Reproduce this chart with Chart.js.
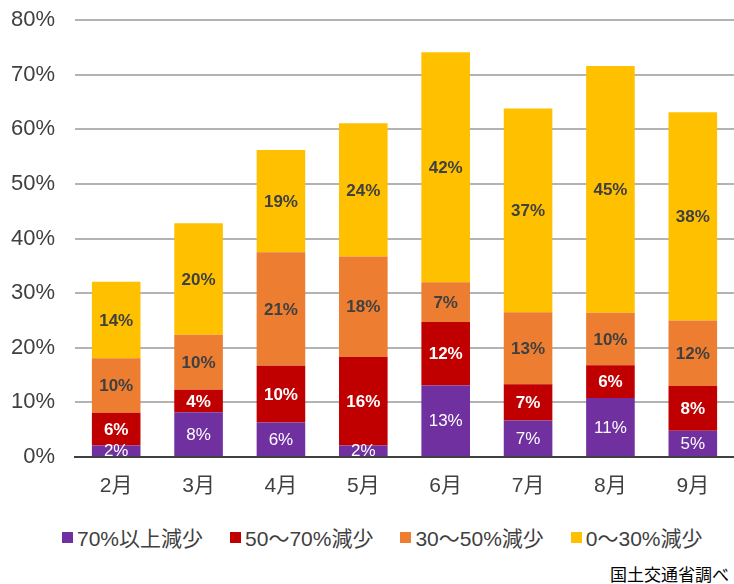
<!DOCTYPE html>
<html>
<head>
<meta charset="utf-8">
<script src="https://cdn.jsdelivr.net/npm/chart.js@4/dist/chart.umd.min.js"></script>
<style>
  body { margin: 0; background: #fff; }
  #wrap { position: relative; width: 734px; height: 584px; font-family: "Liberation Sans", "Noto Sans CJK JP", sans-serif; }
  #box { position: absolute; left: 0; top: 0; width: 734px; height: 500px; }
  #legend { position: absolute; left: 62px; top: 522px; display: flex; gap: 27px; font-size: 21px; color: #404040; }
  #legend .item { display: flex; align-items: center; }
  #legend .sw { width: 11px; height: 11px; margin-right: 4px; }
  #source { position: absolute; right: 5px; top: 561px; font-size: 17px; color: #000; font-family: "Noto Sans CJK JP", sans-serif; }
</style>
</head>
<body>
<div id="wrap">
  <div id="box"><canvas id="chart"></canvas></div>
  <div id="legend"></div>
  <div id="source">国土交通省調べ</div>
</div>
<script>
const months = ['2月', '3月', '4月', '5月', '6月', '7月', '8月', '9月']

// 減少幅ごとの割合 (%)
const over70 = [2.1, 8.2, 6.3, 2.1, 13.1, 6.7, 10.8, 4.8]
const from50to70 = [6.0, 4.1, 10.4, 16.2, 11.6, 6.6, 6.0, 8.2]
const from30to50 = [10.0, 10.1, 20.8, 18.4, 7.3, 13.2, 9.6, 12.0]
const from0to30 = [14.0, 20.4, 18.7, 24.4, 42.1, 37.3, 45.2, 38.1]

const seriesNames = ['70%以上減少', '50～70%減少', '30～50%減少', '0～30%減少']
const seriesColors = ['#7030A0', '#C00000', '#ED7D31', '#FFC000']
const labelColors = ['#ffffff', '#ffffff', '#404040', '#404040']
const labelWeights = ['normal', 'bold', 'bold', 'bold']

const yTicks = [0, 10, 20, 30, 40, 50, 60, 70, 80]

const textColor = '#404040'

// bar value labels
const barLabels = {
    id: 'barLabels',
    afterDatasetsDraw(chart) {
        const ctx = chart.ctx
        ctx.save()
        ctx.textAlign = 'center'
        ctx.textBaseline = 'middle'
        chart.data.datasets.forEach((ds, i) => {
            const meta = chart.getDatasetMeta(i)
            ctx.fillStyle = labelColors[i]
            ctx.font = labelWeights[i] + ' 17px "Liberation Sans", Arial, sans-serif'
            meta.data.forEach((bar, j) => {
                const p = bar.getCenterPoint()
                ctx.fillText(Math.round(ds.data[j]) + '%', p.x, p.y + 1)
            })
        })
        ctx.restore()
    }
}

const datasets = [over70, from50to70, from30to50, from0to30].map((values, i) => ({
    label: seriesNames[i],
    data: values,
    backgroundColor: seriesColors[i],
    borderWidth: 0,
    barPercentage: 0.59,
    categoryPercentage: 1.0
}))

new Chart(document.getElementById('chart'), {
    type: 'bar',
    data: { labels: months, datasets: datasets },
    plugins: [barLabels],
    options: {
        responsive: true,
        maintainAspectRatio: false,
        animation: false,
        layout: { padding: { top: 20, left: 0, right: 0, bottom: 2 } },
        plugins: {
            legend: { display: false },
            tooltip: { enabled: false }
        },
        scales: {
            x: {
                stacked: true,
                grid: { display: false, drawTicks: false },
                border: { display: true, color: textColor, width: 2 },
                ticks: {
                    color: textColor,
                    padding: 17,
                    font: { size: 21, family: '"Liberation Sans", "Noto Sans CJK JP", sans-serif' }
                },
                afterFit(axis) { axis.height = 41 }
            },
            y: {
                stacked: true,
                min: 0,
                max: 80,
                afterBuildTicks(axis) {
                    axis.ticks = yTicks.map(v => ({ value: v }))
                },
                grid: {
                    drawTicks: false,
                    color: '#b3b3b3',
                    lineWidth: 2
                },
                border: { display: false },
                ticks: {
                    color: textColor,
                    padding: 20,
                    font: { size: 22, family: '"Liberation Sans", Arial, sans-serif' },
                    callback: v => v + '%'
                },
                afterFit(axis) {
                    axis.width = 75
                    axis.paddingTop = 0
                    axis.paddingBottom = 0
                }
            }
        }
    }
})

const legend = document.getElementById('legend')
seriesNames.forEach((name, i) => {
    const item = document.createElement('div')
    item.className = 'item'
    const sw = document.createElement('span')
    sw.className = 'sw'
    sw.style.background = seriesColors[i]
    const txt = document.createElement('span')
    txt.textContent = name
    item.appendChild(sw)
    item.appendChild(txt)
    legend.appendChild(item)
})
</script>
</body>
</html>
